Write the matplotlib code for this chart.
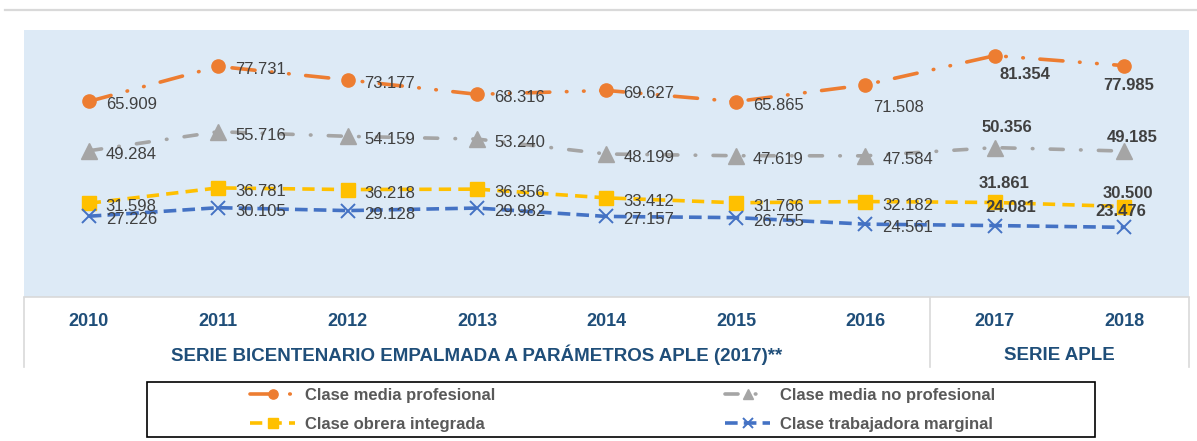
import matplotlib
matplotlib.use("Agg")
import matplotlib.pyplot as plt
from matplotlib.lines import Line2D
from matplotlib.patches import Rectangle
import matplotlib.transforms as mtrans

plt.rcParams['font.family'] = ['Liberation Sans', 'DejaVu Sans']

# ---------------- data ----------------
years = ["2010", "2011", "2012", "2013", "2014", "2015", "2016", "2017", "2018"]
media_profesional = [65.909, 77.731, 73.177, 68.316, 69.627, 65.865, 71.508, 81.354, 77.985]
media_no_profesional = [49.284, 55.716, 54.159, 53.240, 48.199, 47.619, 47.584, 50.356, 49.185]
obrera_integrada = [31.598, 36.781, 36.218, 36.356, 33.412, 31.766, 32.182, 31.861, 30.500]
trabajadora_marginal = [27.226, 30.105, 29.128, 29.982, 27.157, 26.755, 24.561, 24.081, 23.476]
series_names = ["Clase media profesional", "Clase media no profesional",
                "Clase obrera integrada", "Clase trabajadora marginal"]
group_labels = ["SERIE BICENTENARIO EMPALMADA A PARÁMETROS APLE (2017)**", "SERIE APLE"]

# ---------------- figure ----------------
W, H = 1197, 441
fig = plt.figure(figsize=(W / 100, H / 100), dpi=100)
fig.patch.set_facecolor('white')

def fx(px):
    return px / W

def fy(py):
    return 1 - py / H

ax = fig.add_axes([fx(24), fy(297), fx(1189) - fx(24), fy(30) - fy(297)])
ax.set_facecolor('#DDEAF6')
ax.set_xlim(-0.5, 8.5)
ax.set_ylim(0, 90)
ax.set_xticks([])
ax.set_yticks([])
for s in ['top', 'left', 'right']:
    ax.spines[s].set_visible(False)
ax.spines['bottom'].set_color('#D9D9D9')
ax.spines['bottom'].set_linewidth(1.2)

x = list(range(len(years)))
lw = 2.6
styles = [
    dict(color='#ED7D31', marker='o', ms=9.5, ls=(0, (6.4, 4.6, 0.15, 4.6, 0.15, 4.6)),
         dash_capstyle='round'),
    dict(color='#A5A5A5', marker='^', ms=11, ls=(0, (3.6, 4.8, 0.15, 4.8)),
         dash_capstyle='round'),
    dict(color='#FFC000', marker='s', ms=9.5, ls=(0, (3.4, 2.0)),
         dash_capstyle='butt'),
    dict(color='#4472C4', marker='x', ms=10, mew=1.4, ls=(0, (3.5, 1.7)),
         dash_capstyle='butt'),
]
all_series = [media_profesional, media_no_profesional, obrera_integrada, trabajadora_marginal]

handles = []
for vals, st, name in zip(all_series, styles, series_names):
    kw = dict(st)
    ls = kw.pop('ls')
    ax.plot(x, vals, linestyle=ls, lw=lw, label=name, clip_on=False, **kw)
    hk = dict(kw)
    hk['ms'] = kw['ms'] * 0.7
    handles.append(Line2D([], [], linestyle=ls, lw=lw, **hk))

# label placement offsets (pixels, +x right, +y up)
label_color = '#404040'
fs = 12
default_off = (17, -2)
special = {
    (0, 6): (33, -21), (0, 7): (30, -17), (0, 8): (4, -18),
    (1, 7): (12, 22), (1, 8): (8, 15),
    (2, 7): (9, 20), (2, 8): (4, 15),
    (3, 7): (16, 20), (3, 8): (-3, 17),
}
for si, vals in enumerate(all_series):
    for i, v in enumerate(vals):
        if (si, i) in special:
            dx, dy = special[(si, i)]
            ha = 'center'
        else:
            dx, dy = default_off
            ha = 'left'
        bold = i >= 7
        ax.annotate(f"{v:.3f}", (i, v), xytext=(dx, dy - 0.36 * fs * 100 / 72),
                    textcoords='offset pixels', ha=ha, va='baseline',
                    fontsize=fs, color=label_color,
                    fontweight='bold' if bold else 'normal', zorder=5)

# ---------------- table-like x axis ----------------
btr = mtrans.blended_transform_factory(ax.transData, fig.transFigure)
yr_color = '#1F4E79'
for i, yl in enumerate(years):
    ax.text(i, fy(321), yl, transform=btr, ha='center', va='center',
            fontsize=13, fontweight='bold', color=yr_color)
ax.text(3, fy(355), group_labels[0], transform=btr, ha='center', va='center',
        fontsize=13.5, fontweight='bold', color=yr_color)
ax.text(7.5, fy(355), group_labels[1], transform=btr, ha='center', va='center',
        fontsize=13.5, fontweight='bold', color=yr_color)
for xv in (-0.5, 6.5, 8.5):
    ax.add_line(Line2D([xv, xv], [fy(298), fy(367)], transform=btr,
                       color='#D9D9D9', lw=1.2, clip_on=False))

# top rule
fig.add_artist(Line2D([fx(5), 1.0], [fy(9.5), fy(9.5)], transform=fig.transFigure,
                      color='#D9D9D9', lw=1.6))

# ---------------- legend ----------------
fig.add_artist(Rectangle((fx(147), fy(437)), fx(1095) - fx(147), fy(382) - fy(437),
                         transform=fig.transFigure, fill=False, ec='black', lw=1.2))
leg_kw = dict(frameon=False, loc='center left', borderpad=0, borderaxespad=0,
              handlelength=2.7, handletextpad=0.6, labelspacing=0.85,
              prop=dict(size=12, weight='bold'), labelcolor='#595959')
leg1 = fig.legend([handles[0], handles[2]], [series_names[0], series_names[2]],
                  bbox_to_anchor=(fx(250), fy(410)), **leg_kw)
leg2 = fig.legend([handles[1], handles[3]], [series_names[1], series_names[3]],
                  bbox_to_anchor=(fx(725), fy(410)), **leg_kw)

fig.savefig('out.png', dpi=100, facecolor='white')
